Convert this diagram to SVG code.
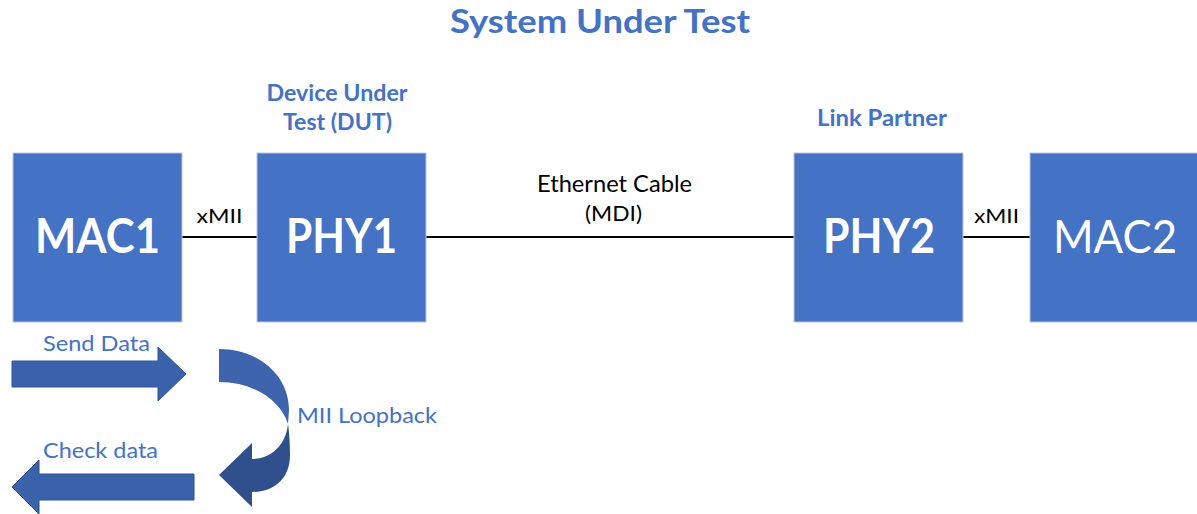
<svg xmlns="http://www.w3.org/2000/svg" width="1197" height="514" viewBox="0 0 1197 514">
<style>
.box{fill:#4472C4;stroke:#BFC6D4;stroke-width:1}
.big{font-family:Lato,"Open Sans",sans-serif;font-size:47px;fill:#fff;text-anchor:middle}
.b{font-weight:bold}
.lbl{font-family:Lato,"Open Sans",sans-serif;fill:#000;text-anchor:middle}
.blue{font-family:Lato,"Open Sans",sans-serif;fill:#4472C4}
.wire{stroke:#000;stroke-width:2;fill:none}
.arr{fill:#3A62AA;stroke:#2F528F;stroke-width:1}
</style>
<rect width="1197" height="514" fill="#fff"/>
<text class="blue b" x="600" y="33" font-size="32" text-anchor="middle" textLength="300" lengthAdjust="spacingAndGlyphs">System Under Test</text>
<text class="blue b" x="337" y="101" font-size="22" text-anchor="middle" textLength="141" lengthAdjust="spacingAndGlyphs">Device Under</text>
<text class="blue b" x="337.5" y="130" font-size="22" text-anchor="middle" textLength="109" lengthAdjust="spacingAndGlyphs">Test (DUT)</text>
<text class="blue b" x="882" y="126" font-size="22" text-anchor="middle" textLength="130" lengthAdjust="spacingAndGlyphs">Link Partner</text>
<g id="connectors">
<line class="wire" x1="182" y1="237" x2="257" y2="237"/>
<line class="wire" x1="426" y1="237" x2="794" y2="237"/>
<line class="wire" x1="963" y1="237" x2="1030" y2="237"/>
<text class="lbl" x="219.5" y="223" font-size="20" textLength="46" lengthAdjust="spacingAndGlyphs">xMII</text>
<text class="lbl" x="996.5" y="223" font-size="20" textLength="45" lengthAdjust="spacingAndGlyphs">xMII</text>
<text class="lbl" x="614.5" y="192" font-size="23" textLength="155" lengthAdjust="spacingAndGlyphs">Ethernet Cable</text>
<text class="lbl" x="613.5" y="221" font-size="22" textLength="57" lengthAdjust="spacingAndGlyphs">(MDI)</text>
</g>
<g id="mac1"><rect class="box" x="13" y="153" width="169" height="169"/><text class="big b" x="97.5" y="253" textLength="125" lengthAdjust="spacingAndGlyphs">MAC1</text></g>
<g id="phy1"><rect class="box" x="257" y="153" width="169" height="169"/><text class="big b" x="341.5" y="253" textLength="111" lengthAdjust="spacingAndGlyphs">PHY1</text></g>
<g id="phy2"><rect class="box" x="794" y="153" width="169" height="169"/><text class="big b" x="879" y="253" textLength="112" lengthAdjust="spacingAndGlyphs">PHY2</text></g>
<g id="mac2"><rect class="box" x="1030" y="153" width="169" height="169"/><text class="big" x="1115" y="253" textLength="124" lengthAdjust="spacingAndGlyphs">MAC2</text></g>
<g id="send">
<path class="arr" d="M12,361 H158 V347 L186,374 L158,401 V387 H12 Z"/>
<text class="blue" x="43" y="351" font-size="22" textLength="107" lengthAdjust="spacingAndGlyphs">Send Data</text>
</g>
<g id="check">
<path class="arr" d="M194,474 H39 V460 L12,487 L39,514 V500 H194 Z"/>
<text class="blue" x="43" y="458" font-size="22" textLength="115" lengthAdjust="spacingAndGlyphs">Check data</text>
</g>
<g id="loopback">
<path fill="#3D64AD" d="M219,349 C258,349 289,375 289,410 L288,424 C281,401 254,382 219,382 Z"/>
<path fill="#30508D" d="M288,424 C289,430 290,442 290,455 C290,478 275,492 252,492 L252,507 L219,475 L252,443 L252,459 C272,459 286,444 288,424 Z"/>
<text class="blue" x="297" y="423" font-size="22" textLength="140" lengthAdjust="spacingAndGlyphs">MII Loopback</text>
</g>
</svg>
